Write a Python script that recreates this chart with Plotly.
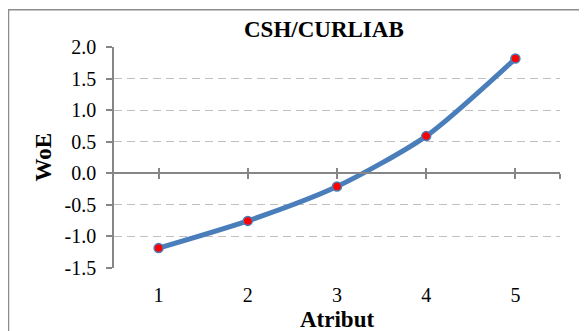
import plotly.graph_objects as go

categories = [1, 2, 3, 4, 5]
woe = [-1.185, -0.754, -0.21, 0.589, 1.817]
y_ticks = [-1.5, -1.0, -0.5, 0.0, 0.5, 1.0, 1.5, 2.0]
y_ticklabels = ["-1.5", "-1.0", "-0.5", "0.0", "0.5", "1.0", "1.5", "2.0"]
cross_ticks = [1, 2, 3, 4, 5, 5.5]

W, H = 587, 331
OFF = 8  # page body margin offset
PL, PR, PT, PB = 114, 560, 47, 268
ML, MT = PL - OFF, PT - OFF
MR = W - (PR - OFF)
MB = H - (PB - OFF)
pw = W - ML - MR
ph = H - MT - MB

def px_x(px):
    return (px - OFF - ML) / pw

def px_y(py):
    return (H - MB - (py - OFF)) / ph

FONT = "Liberation Serif, Times New Roman, serif"
AXIS_GRAY = "#868686"
LINE_BLUE = "#4a7ebb"

ymin, ymax = -1.5, 2.0
zero_pos = (0 - ymin) / (ymax - ymin)

fig = go.Figure()
fig.add_trace(go.Scatter(
    x=categories, y=woe, mode="lines+markers",
    line=dict(color=LINE_BLUE, width=5, shape="spline", smoothing=0.7),
    marker=dict(color="#ff0000", size=9, line=dict(color=LINE_BLUE, width=1.5)),
    showlegend=False,
))

for ax in ["x2", "x3"]:
    fig.add_trace(go.Scatter(x=[None], y=[None], xaxis=ax, showlegend=False, hoverinfo="skip"))

fig.update_layout(
    width=W, height=H,
    margin=dict(l=ML, r=MR, t=MT, b=MB),
    paper_bgcolor="white", plot_bgcolor="white",
    font=dict(family=FONT, color="black", size=20),
    xaxis=dict(
        range=[0.5, 5.5], tickvals=categories, ticktext=[str(c) for c in categories],
        showline=False, showgrid=False, zeroline=False, ticks="",
        tickfont=dict(size=20, family=FONT), ticklabelstandoff=13,
    ),
    xaxis2=dict(
        overlaying="x", anchor="free", position=zero_pos, range=[0.5, 5.5],
        tickvals=cross_ticks, showticklabels=False, ticks="outside", ticklen=5,
        tickwidth=1.5, tickcolor=AXIS_GRAY, showline=True, linecolor=AXIS_GRAY,
        linewidth=1.5, showgrid=False, zeroline=False,
    ),
    xaxis3=dict(
        overlaying="x", anchor="free", position=zero_pos, range=[0.5, 5.5],
        tickvals=cross_ticks, showticklabels=False, ticks="inside", ticklen=5,
        tickwidth=1.5, tickcolor=AXIS_GRAY, showline=False, showgrid=False, zeroline=False,
    ),
    yaxis=dict(
        range=[ymin, ymax], tickvals=y_ticks, ticktext=y_ticklabels,
        showline=True, linecolor=AXIS_GRAY, linewidth=1.5,
        ticks="outside", ticklen=6, tickwidth=1.5, tickcolor=AXIS_GRAY,
        showgrid=True, gridcolor="#bfbfbf", gridwidth=1.3, griddash="8px,5px",
        zeroline=False, tickfont=dict(size=20, family=FONT), ticklabelstandoff=6,
    ),
    shapes=[dict(
        type="rect", xref="paper", yref="paper",
        x0=px_x(8.5), x1=px_x(640), y0=px_y(345), y1=px_y(9.7),
        line=dict(color="#8c8c8c", width=1.5), fillcolor="rgba(0,0,0,0)", layer="below",
    )],
    annotations=[
        dict(text="<b>CSH/CURLIAB</b>", xref="paper", yref="paper",
             x=px_x(323.5), y=px_y(29), xanchor="center", yanchor="middle",
             showarrow=False, font=dict(size=23, family=FONT)),
        dict(text="<b>WoE</b>", xref="paper", yref="paper",
             x=px_x(43), y=px_y(157.5), xanchor="center", yanchor="middle",
             textangle=-90, showarrow=False, font=dict(size=23, family=FONT)),
        dict(text="<b>Atribut</b>", xref="paper", yref="paper",
             x=px_x(337), y=px_y(319), xanchor="center", yanchor="middle",
             showarrow=False, font=dict(size=23, family=FONT)),
    ],
)

fig.write_html("out.html")
